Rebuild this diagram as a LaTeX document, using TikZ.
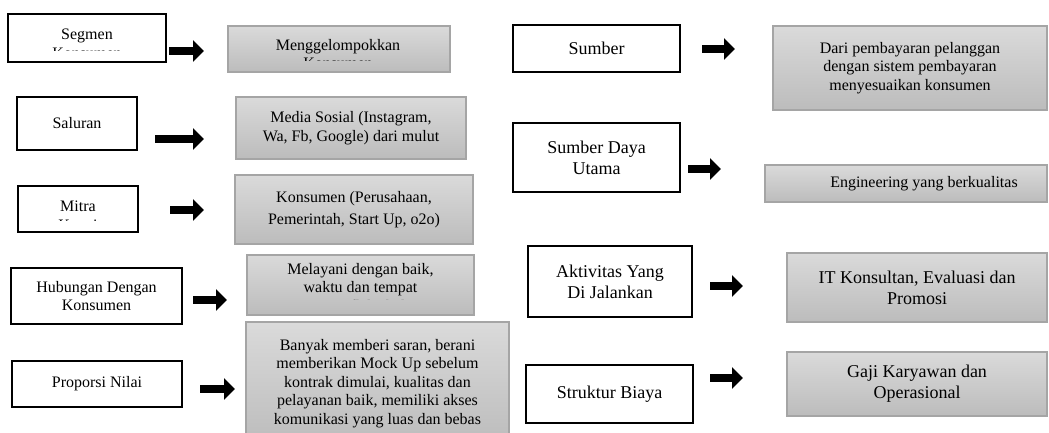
\documentclass[tikz,border=0pt]{standalone}
\usepackage{fontspec}
\setmainfont{Liberation Serif}
\usetikzlibrary{arrows.meta}

\definecolor{boxline}{HTML}{A5A5A5}
\definecolor{boxtop}{HTML}{DADADA}
\definecolor{boxbot}{HTML}{BCBCBC}

\newcommand{\txtn}{\fontsize{16}{18.5}\selectfont}
\newcommand{\txtb}{\fontsize{18}{21}\selectfont}

\tikzstyle{label box}=[draw,line width=2.2pt,fill=white,inner sep=0pt,align=center,font=\txtn]
\tikzstyle{info box}=[draw=boxline,line width=1.2pt,top color=boxtop,bottom color=boxbot,inner sep=0pt,align=center,font=\txtn]
\tikzstyle{cut text}=[inner sep=0pt,align=center,font=\txtn]
\tikzstyle{edge}=[draw,line width=8pt,-{Triangle[length=11pt,width=21pt]}]

\begin{document}
\begin{tikzpicture}[x=1pt,y=-1pt]
     \path[use as bounding box,clip] (0,0) rectangle (1049,433);

     % left hand boxes with the headings
     \foreach \pos/\w/\h/\name/\txt in {{(87,38)/158/48/seg/}, {(77,123.5)/120/53/sal/Saluran},
       {(78,209)/120/46/mit/}, {(96.5,296)/171/56/hub/Hubungan Dengan\\Konsumen},
       {(97,384)/170/46/pro/Proporsi Nilai}}
     \node[label box,minimum width=\w pt,minimum height=\h pt] (\name) at \pos {\txt};

     \foreach \pos/\w/\h/\name/\txt in {{(596.5,48.5)/167/47/sum/Sumber}, {(596.5,157.5)/167/69/sdu/Sumber Daya\\Utama},
       {(610,281.5)/164/71/akt/Aktivitas Yang\\Di Jalankan}, {(609.5,394)/167/58/str/Struktur Biaya}}
     \node[label box,font=\txtb,minimum width=\w pt,minimum height=\h pt] (\name) at \pos {\txt};

     % grey boxes with the contents
     \foreach \pos/\w/\h/\name/\txt in {{(339,49)/222/46/mng/}, {(351,128)/230/62/med/Media Sosial (Instagram,\\Wa, Fb, Google) dari mulut},
       {(354,209.5)/238/69/kon/Konsumen (Perusahaan,\\[4pt]Pemerintah, Start Up, o2o)},
       {(360.5,285)/227/60/mel/},
       {(377.5,383.5)/263/123/ban/Banyak memberi saran, berani\\memberikan Mock Up sebelum\\kontrak dimulai, kualitas dan\\pelayanan baik, memiliki akses\\komunikasi yang luas dan bebas},
       {(910,68)/274/84/dar/Dari pembayaran pelanggan\\dengan sistem pembayaran\\menyesuaikan konsumen},
       {(906,183.5)/282/37/eng/\hspace*{36pt}Engineering yang berkualitas}}
     \node[info box,minimum width=\w pt,minimum height=\h pt] (\name) at \pos {\txt};

     \foreach \pos/\w/\h/\name/\txt in {{(917,287.5)/260/69/its/IT Konsultan, Evaluasi dan\\Promosi},
       {(917,384)/260/64/gaj/Gaji Karyawan dan\\Operasional}}
     \node[info box,font=\txtb,minimum width=\w pt,minimum height=\h pt] (\name) at \pos {\txt};

     % text that runs over the bottom of its box
     \foreach \name/\pos/\cut/\txt in {{seg/(87,44)/51/Segmen\\Konsumen}, {mng/(338,54)/60.5/Menggelompokkan\\Konsumen},
       {mit/(78,216)/220/Mitra\\Kunci}, {mel/(360.5,289)/299.5/Melayani dengan baik,\\waktu dan tempat\\yang fleksibel}}
     {
       \begin{scope}
         \clip (\name.north west) rectangle (\name.east |- 0,\cut);
         \node[cut text] (\name-t) at \pos {\txt};
       \end{scope}
     }

     % arrows between the two
     \foreach \source/\dest/\y/\xa/\xb in {seg/mng/51/169/204, sal/med/139/155/204, mit/kon/210/170/204,
       hub/mel/300/193/227, pro/ban/389/200/235, sum/dar/49/702/735, sdu/eng/169/688/721,
       akt/its/286/710/743, str/gaj/378/710/743}
     {
       \coordinate (\source-out) at (\xa,\y);
       \coordinate (\dest-in) at (\xb,\y);
       \path[edge] (\source-out) -- (\dest-in);
     }
\end{tikzpicture}
\end{document}
